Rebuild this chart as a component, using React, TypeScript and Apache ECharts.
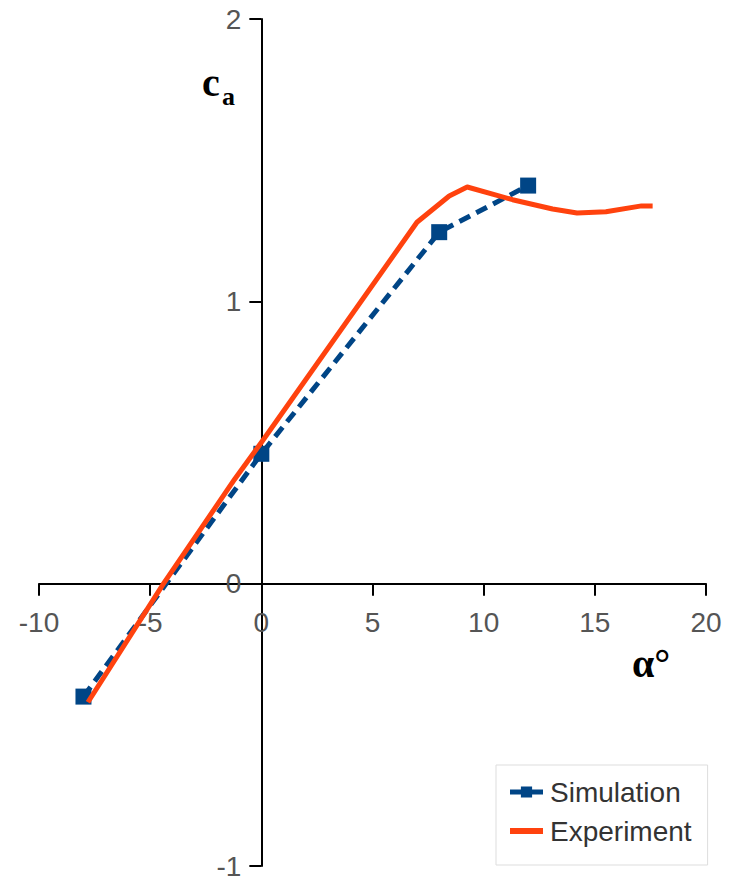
import React, { useEffect, useRef } from "react";
import * as echarts from "echarts";

// Angle of attack (deg) and lift coefficient c_a
const simulationAlpha = [-8, 0, 8, 12];
const simulationCa = [-0.4, 0.46, 1.245, 1.41];

const experimentAlpha = [-7.8, -4.4, -1.2, 0, 7, 8.45, 9.26, 11.3, 13.1, 14.2, 15.5, 17.1, 17.6];
const experimentCa = [-0.42, 0, 0.37, 0.5, 1.28, 1.373, 1.405, 1.36, 1.327, 1.313, 1.317, 1.338, 1.338];

const seriesNames = ["Simulation", "Experiment"];
const xTickRange = [-10, 20, 5]; // min, max, step
const yTickRange = [-1, 2, 1];

const GRID = { left: 39, right: 23, top: 19, bottom: 13 };
const WIDTH = 729;
const HEIGHT = 879;

const App: React.FC = () => {
  const ref = useRef<HTMLDivElement>(null);

  useEffect(() => {
    document.body.style.margin = "0";
    if (!ref.current) return;
    const chart = echarts.init(ref.current, undefined, { renderer: "svg" });

    const simData = simulationAlpha.map((a, i) => [a, simulationCa[i]]);
    const expData = experimentAlpha.map((a, i) => [a, experimentCa[i]]);

    // position the axes where the other axis is zero (labels travel with them)
    const plotW = WIDTH - GRID.left - GRID.right;
    const plotH = HEIGHT - GRID.top - GRID.bottom;
    const xZeroFrac = (0 - xTickRange[0]) / (xTickRange[1] - xTickRange[0]);
    const yZeroFrac = (0 - yTickRange[0]) / (yTickRange[1] - yTickRange[0]);
    const xAxisOffset = -plotH * yZeroFrac;
    const yAxisOffset = -plotW * xZeroFrac;

    const tickLabel = {
      fontFamily: "Liberation Sans",
      fontSize: 28,
      color: "#555555",
    };

    chart.setOption({
      animation: false,
      backgroundColor: "#ffffff",
      grid: { ...GRID, containLabel: false, outerBoundsMode: "none" },
      xAxis: {
        type: "value",
        min: xTickRange[0],
        max: xTickRange[1],
        interval: xTickRange[2],
        position: "bottom",
        offset: xAxisOffset,
        axisLine: { onZero: false, lineStyle: { color: "#000000", width: 2 } },
        axisTick: { show: true, length: 12, lineStyle: { color: "#000000", width: 2 } },
        axisLabel: { ...tickLabel, margin: 25 },
        splitLine: { show: false },
      },
      yAxis: {
        type: "value",
        min: yTickRange[0],
        max: yTickRange[1],
        interval: yTickRange[2],
        position: "left",
        offset: yAxisOffset,
        axisLine: { show: true, onZero: false, lineStyle: { color: "#000000", width: 2 } },
        axisTick: { show: true, length: 12, lineStyle: { color: "#000000", width: 2 } },
        axisLabel: { ...tickLabel, margin: 20, lineHeight: 22 },
        splitLine: { show: false },
      },
      legend: {
        orient: "vertical",
        left: 496,
        top: 765,
        padding: [13, 16, 20, 11],
        itemGap: 11,
        itemWidth: 33,
        itemHeight: 14,
        backgroundColor: "#ffffff",
        borderColor: "#dddddd",
        borderWidth: 1,
        borderRadius: 0,
        textStyle: {
          fontFamily: "Liberation Sans",
          fontSize: 28,
          color: "#333333",
          padding: [0, 0, 0, 2],
        },
        data: [
          { name: seriesNames[0], lineStyle: { type: "solid", width: 5 } },
          { name: seriesNames[1], lineStyle: { type: "solid", width: 6 }, itemStyle: { opacity: 0 } },
        ],
      },
      graphic: [
        {
          type: "text",
          left: 202,
          top: 62,
          style: {
            text: "c",
            font: "bold 40px 'Liberation Serif'",
            fill: "#000000",
          },
        },
        {
          type: "text",
          left: 222,
          top: 83,
          style: {
            text: "a",
            font: "bold 26px 'Liberation Serif'",
            fill: "#000000",
          },
        },
        {
          type: "text",
          left: 632,
          top: 643,
          style: {
            text: "α°",
            font: "bold 40px 'Liberation Serif'",
            fill: "#000000",
          },
        },
      ],
      series: [
        {
          name: seriesNames[0],
          type: "line",
          data: simData,
          symbol: "rect",
          symbolSize: 16,
          showSymbol: true,
          itemStyle: { color: "#004586" },
          lineStyle: { color: "#004586", width: 5, type: [12, 7] },
          z: 2,
        },
        {
          name: seriesNames[1],
          type: "line",
          data: expData,
          symbol: "none",
          itemStyle: { color: "#ff420e" },
          lineStyle: { color: "#ff420e", width: 5, type: "solid", cap: "butt", join: "round" },
          z: 3,
        },
      ],
    });

    return () => {
      chart.dispose();
    };
  }, []);

  return <div ref={ref} style={{ width: WIDTH, height: HEIGHT }} />;
};

export default App;
